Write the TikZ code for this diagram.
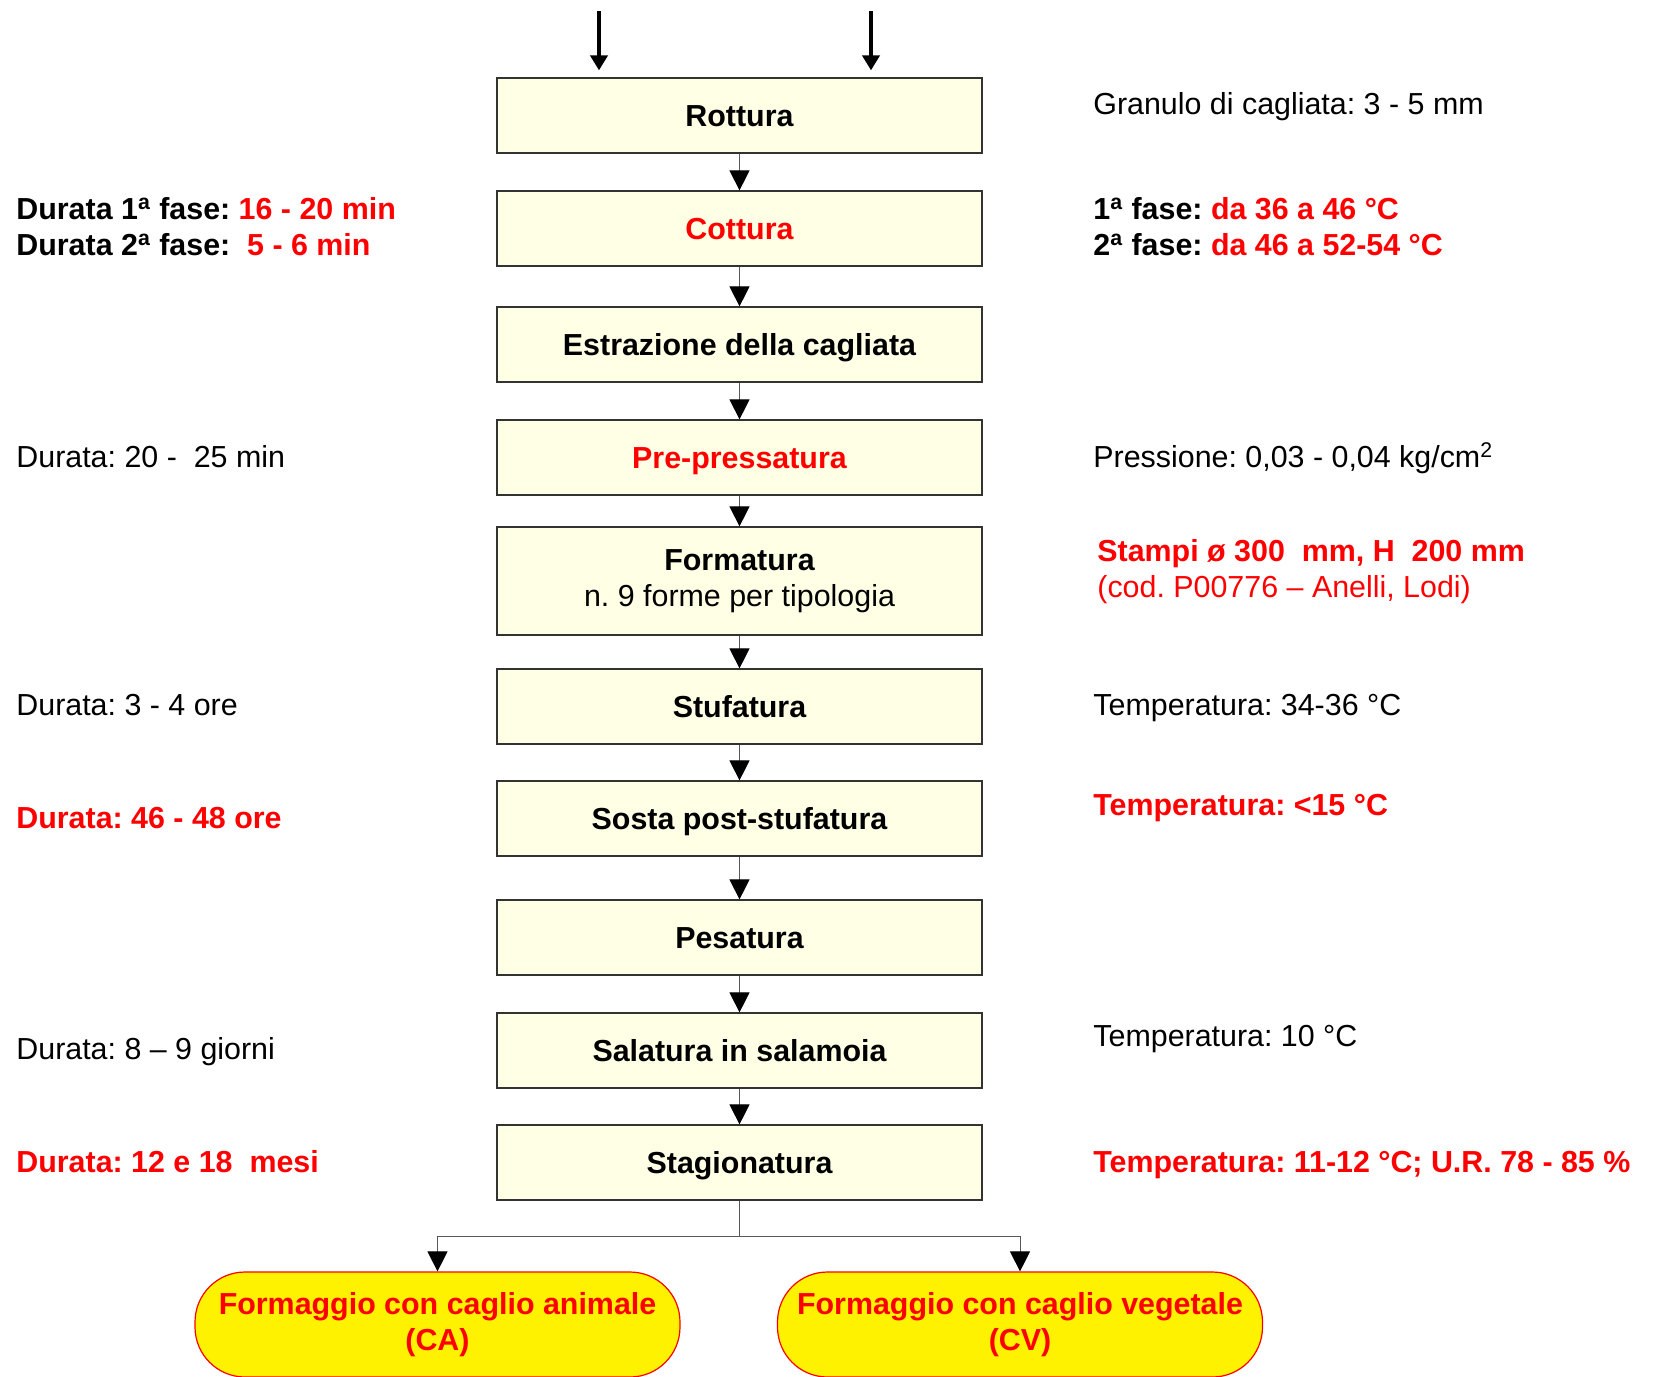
\documentclass[tikz,border=0pt]{standalone}
\usepackage{fontspec}
\setmainfont{Liberation Sans}
\usetikzlibrary{positioning,arrows.meta}
\definecolor{cream}{RGB}{255,255,229}
\newcommand{\rosso}[1]{\textcolor{red}{#1}}
\frenchspacing

\begin{document}
\begin{tikzpicture}[x=0.5pt,y=-0.5pt,
	every node/.style={font=\fontsize{15.2pt}{18pt}\selectfont},
	box node/.style={rectangle,draw=black!80,line width=0.6pt,fill=cream,
		minimum width=242.5pt,minimum height=37.5pt,inner sep=0pt,
		font=\fontsize{15.2pt}{18pt}\selectfont\bfseries},
	line box/.style={box node,text height=10.9pt,text depth=0pt},
	end node/.style={rectangle,rounded corners=25pt,draw=red,fill=yellow,line width=0.6pt,
		minimum width=242.5pt,minimum height=52.5pt,align=center,text=red,
		font=\fontsize{15.2pt}{18pt}\selectfont\bfseries},
	note node/.style={anchor=base west,inner sep=0pt,align=left},
	conn/.style={draw=black!65,line width=0.5pt,-{Triangle[length=10pt,width=10pt,color=black]}},
	in arrow/.style={line width=2.2pt,-{Triangle[length=7.5pt,width=8.5pt]}}]

	\useasboundingbox (0,0) rectangle (1654,1376);

	% fasi del processo
	\node[line box] (rottura) at (739.5,115.5) {Rottura};
	\node[line box] (cottura) [below=18.4pt of rottura] {\rosso{Cottura}};
	\node[line box] (estrazione) [below=19.9pt of cottura] {Estrazione della cagliata};
	\node[line box] (prepress) [below=18.4pt of estrazione] {\rosso{Pre-pressatura}};
	\node[box node,minimum height=54pt,align=center] (formatura) [below=15.4pt of prepress]
		{Formatura\\\mdseries n. 9 forme per tipologia};
	\node[line box] (stufatura) [below=16.4pt of formatura] {Stufatura};
	\node[line box] (sosta) [below=17.9pt of stufatura] {Sosta post-stufatura};
	\node[line box] (pesatura) [below=21.4pt of sosta] {Pesatura};
	\node[line box] (salatura) [below=18.4pt of pesatura] {Salatura in salamoia};
	\node[line box] (stag) [below=17.9pt of salatura] {Stagionatura};

	\node[end node] (ca) at (437.5,1324.5) {Formaggio con caglio animale\\(CA)};
	\node[end node] (cv) at (1020,1324.5) {Formaggio con caglio vegetale\\(CV)};

	% ingressi
	\coordinate (latte1) at (599,11);
	\coordinate (latte2) at (871,11);
	\draw[in arrow,shorten >=3.5pt] (latte1) -- (latte1 |- rottura.north);
	\draw[in arrow,shorten >=3.5pt] (latte2) -- (latte2 |- rottura.north);

	\path[conn]
	(rottura) edge (cottura)
	(cottura) edge (estrazione)
	(estrazione) edge (prepress)
	(prepress) edge (formatura)
	(formatura) edge (stufatura)
	(stufatura) edge (sosta)
	(sosta) edge (pesatura)
	(pesatura) edge (salatura)
	(salatura) edge (stag);

	\draw[conn] (stag.south) -- ++(0,36) -| (ca.north);
	\draw[conn] (stag.south) -- ++(0,36) -| (cv.north);

	% note a sinistra
	\node[note node,font=\fontsize{15.2pt}{18pt}\selectfont\bfseries] (durCot) at (16,255.7)
		{Durata 1\textsuperscript{a} fase: \rosso{16 - 20 min}\\
		 Durata 2\textsuperscript{a} fase:~ \rosso{5 - 6 min}};
	\node[note node] (durPre) at (16,467.7) {Durata: 20 -~ 25 min};
	\node[note node] (durStu) at (16,715.6) {Durata: 3 - 4 ore};
	\node[note node,font=\fontsize{15.2pt}{18pt}\selectfont\bfseries,text=red] (durSos) at (16,828.5) {Durata: 46 - 48 ore};
	\node[note node] (durSal) at (16,1059.5) {Durata: 8 – 9 giorni};
	\node[note node,font=\fontsize{15.2pt}{18pt}\selectfont\bfseries,text=red] (durSta) at (16,1172.3) {Durata: 12 e 18~ mesi};

	% note a destra
	\node[note node] (granulo) at (1093,114.4) {Granulo di cagliata: 3 - 5 mm};
	\node[note node,font=\fontsize{15.2pt}{18pt}\selectfont\bfseries] (tempCot) at (1093,255.7)
		{1\textsuperscript{a} fase: \rosso{da 36 a 46 °C}\\
		 2\textsuperscript{a} fase: \rosso{da 46 a 52-54 °C}};
	\node[note node] (pressione) at (1093,467.7) {Pressione: 0,03 - 0,04 kg/cm\textsuperscript{2}};
	\node[note node,text=red] (stampi) at (1097,597.5)
		{\textbf{Stampi ø 300~ mm, H~ 200 mm}\\(cod. P00776 – Anelli, Lodi)};
	\node[note node] (tempStu) at (1093,715.6) {Temperatura: 34-36 °C};
	\node[note node,font=\fontsize{15.2pt}{18pt}\selectfont\bfseries,text=red] (tempSos) at (1093,815.8) {Temperatura: <15 °C};
	\node[note node] (tempSal) at (1093,1046.8) {Temperatura: 10 °C};
	\node[note node,font=\fontsize{15.2pt}{18pt}\selectfont\bfseries,text=red] (tempSta) at (1093,1172.3)
		{Temperatura: 11-12 °C; U.R. 78 - 85 \%};
\end{tikzpicture}
\end{document}
